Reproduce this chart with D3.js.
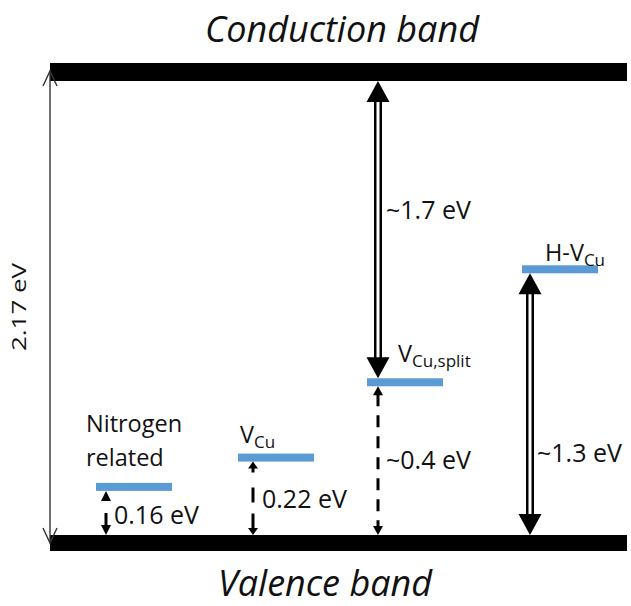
<!DOCTYPE html>
<html><head><meta charset="utf-8">
<script src="https://cdn.jsdelivr.net/npm/d3@7"></script>
<style>body{margin:0;background:#fff}svg{display:block}text{font-family:"Open Sans",sans-serif;fill:#111}</style>
</head><body><svg id="c" width="631" height="606"></svg>
<script>
// Data (energies in eV above valence band maximum, as drawn)
const bandGap = 2.17;
const levelNames = ["Nitrogen", "V_Cu", "V_Cu,split", "H-V_Cu"];
const levelEnergy = [0.23, 0.37, 0.73, 1.27];   // position of each defect level
const levelX = [96, 238, 367, 522];
const transitionLabels = ["0.16 eV", "0.22 eV", "~0.4 eV", "~1.7 eV", "~1.3 eV", "2.17 eV"];

const svg = d3.select("#c");
const y = d3.scaleLinear().domain([0, bandGap]).range([535, 81]);
const levelW = 76, levelT = 8;
const blue = "#5b9bd5";

// bands
svg.append("rect").attr("x", 50).attr("y", y(bandGap) - 18).attr("width", 577).attr("height", 18).attr("fill", "#000");
svg.append("rect").attr("x", 50).attr("y", y(0)).attr("width", 577).attr("height", 16).attr("fill", "#000");

svg.append("text").attr("x", 342).attr("y", 42).attr("text-anchor", "middle").attr("font-style", "italic").attr("font-size", 36).text("Conduction band");
svg.append("text").attr("x", 325).attr("y", 596).attr("text-anchor", "middle").attr("font-style", "italic").attr("font-size", 36).text("Valence band");

// levels
levelEnergy.forEach((e, i) => {
  svg.append("rect").attr("x", levelX[i]).attr("y", y(e) - levelT / 2).attr("width", levelW).attr("height", levelT).attr("fill", blue);
});

function head(x, tip, dir, hw, len, filled) {
  // dir = -1 pointing up, +1 pointing down
  const b = tip - dir * len;
  if (filled) {
    svg.append("path").attr("d", `M${x},${tip}L${x - hw},${b}L${x + hw},${b}Z`).attr("fill", "#000");
  } else {
    svg.append("path").attr("d", `M${x - hw},${b}L${x},${tip}L${x + hw},${b}`).attr("fill", "none").attr("stroke", "#333").attr("stroke-width", 1.4);
  }
}
function doubleArrow(x, y1, y2) {
  const hl = 21, hw = 11.5;
  svg.append("line").attr("x1", x).attr("x2", x).attr("y1", y1 + hl - 2).attr("y2", y2 - hl + 2).attr("stroke", "#000").attr("stroke-width", 8);
  svg.append("line").attr("x1", x).attr("x2", x).attr("y1", y1 + hl - 4).attr("y2", y2 - hl + 4).attr("stroke", "#fff").attr("stroke-width", 3);
  head(x, y1, -1, hw, hl, true);
  head(x, y2, 1, hw, hl, true);
}
function dashedArrow(x, y1, y2, dash, hl) {
  const hw = 5;
  svg.append("line").attr("x1", x).attr("x2", x).attr("y1", y1 + hl - 1).attr("y2", y2 - hl + 1).attr("stroke", "#000").attr("stroke-width", 3).attr("stroke-dasharray", dash);
  head(x, y1, -1, hw, hl, true);
  head(x, y2, 1, hw, hl, true);
}

// 2.17 eV gap arrow (thin, open heads)
svg.append("line").attr("x1", 50).attr("x2", 50).attr("y1", y(bandGap) - 10).attr("y2", y(0) + 8).attr("stroke", "#333").attr("stroke-width", 1.4);
head(50, y(bandGap) - 10, -1, 7, 15, false);
head(50, y(0) + 8, 1, 7, 15, false);
svg.append("text").attr("transform", "translate(26,307) rotate(-90) scale(1,0.8)").attr("text-anchor", "middle").attr("font-size", 26).text(transitionLabels[5]);

// transitions
dashedArrow(106, y(levelEnergy[0]) + levelT / 2, y(0), "1 12 40", 10);
dashedArrow(253, y(levelEnergy[1]) + levelT / 2, y(0), "5 15 15 11 40", 7);
dashedArrow(378, y(levelEnergy[2]) + levelT / 2, y(0), "12 9", 9);
doubleArrow(378, y(bandGap), y(levelEnergy[2]) - levelT / 2);
doubleArrow(530, y(levelEnergy[3]) + levelT / 2, y(0));

const fs = 25, fn = 23.5;
svg.append("text").attr("x", 114).attr("y", 524).attr("font-size", fs).text(transitionLabels[0]);
svg.append("text").attr("x", 262).attr("y", 508).attr("font-size", fs).text(transitionLabels[1]);
svg.append("text").attr("x", 386).attr("y", 469).attr("font-size", fs).text(transitionLabels[2]);
svg.append("text").attr("x", 386).attr("y", 219).attr("font-size", fs).text(transitionLabels[3]);
svg.append("text").attr("x", 537).attr("y", 462).attr("font-size", fs).text(transitionLabels[4]);

// level labels
svg.append("text").attr("x", 86).attr("y", 432).attr("font-size", fn).text("Nitrogen");
svg.append("text").attr("x", 86).attr("y", 466).attr("font-size", fn).text("related");
function subLabel(x, yb, main, sub) {
  const t = svg.append("text").attr("x", x).attr("y", yb).attr("font-size", fn);
  t.append("tspan").text(main);
  t.append("tspan").attr("font-size", 17).attr("dy", 5).text(sub);
}
subLabel(240, 443, "V", "Cu");
subLabel(398, 362, "V", "Cu,split");
subLabel(545, 261, "H-V", "Cu");
</script></body></html>
